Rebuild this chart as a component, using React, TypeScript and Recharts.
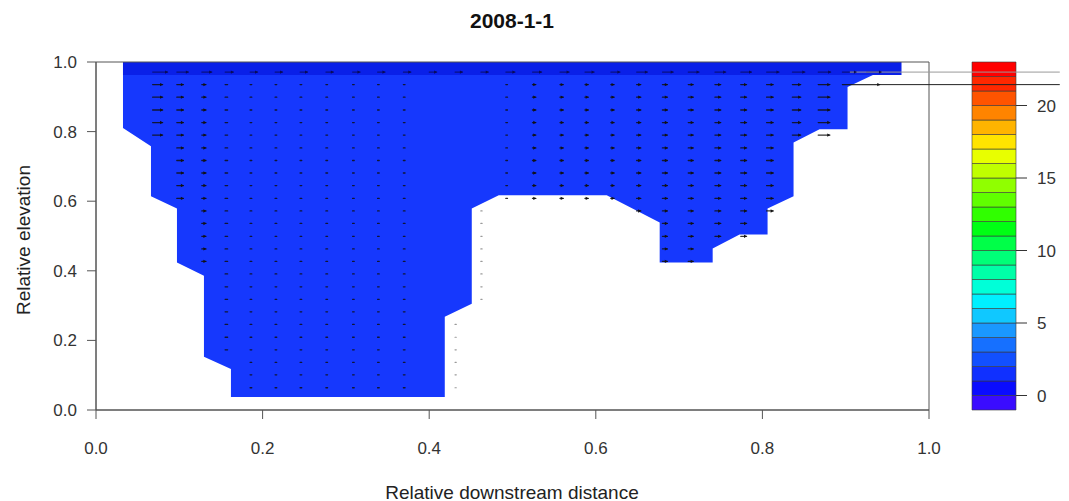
import React from "react";
import { ComposedChart, Area, Line, XAxis, YAxis, ReferenceArea, ReferenceLine } from "recharts";

// cross-section outline (bottom boundary), relative units
const bedX = [0.0324, 0.066, 0.066, 0.0972, 0.0972, 0.1296, 0.1296, 0.162, 0.162, 0.4187, 0.4187, 0.4511, 0.4511, 0.4835, 0.6131, 0.6767, 0.6767, 0.7403, 0.7403, 0.7726, 0.8062, 0.8062, 0.8374, 0.8374, 0.8686, 0.9022, 0.9022, 0.9346];
const bedY = [0.81, 0.758, 0.614, 0.579, 0.424, 0.386, 0.153, 0.118, 0.037, 0.037, 0.268, 0.305, 0.579, 0.617, 0.617, 0.539, 0.424, 0.424, 0.464, 0.504, 0.504, 0.579, 0.614, 0.769, 0.807, 0.807, 0.928, 0.965];

// surface layer
const surfaceX = [0.0324, 0.967];
const surfaceY = [0.963, 0.963];

// velocity vector grid rows
const arrowRows = [0.971, 0.935, 0.899, 0.862, 0.826, 0.79, 0.753, 0.717, 0.681, 0.645, 0.608, 0.572, 0.536, 0.499, 0.463, 0.427, 0.391, 0.354, 0.318, 0.282, 0.246, 0.209, 0.173, 0.137, 0.101, 0.064];

// [x, first row, last row, vector length, surface vector length]
const arrowColumns = [
  [0.068, 1, 5, 0.012, 0.018],
  [0.097, 1, 10, 0.008, 0.014],
  [0.127, 1, 15, 0.005, 0.012],
  [0.155, 1, 22, 0.003, 0.01],
  [0.185, 1, 25, 0.002, 0.009],
  [0.215, 1, 25, 0.002, 0.009],
  [0.245, 1, 25, 0.002, 0.009],
  [0.276, 1, 25, 0.002, 0.009],
  [0.308, 1, 25, 0.002, 0.009],
  [0.338, 1, 25, 0.002, 0.009],
  [0.369, 1, 25, 0.002, 0.009],
  [0.4, 1, 0, 0, 0.009],
  [0.431, 1, 0, 0, 0.009],
  [0.462, 1, 0, 0, 0.009],
  [0.492, 1, 10, 0.002, 0.011],
  [0.524, 1, 10, 0.004, 0.011],
  [0.557, 1, 10, 0.004, 0.011],
  [0.587, 1, 10, 0.004, 0.011],
  [0.618, 1, 10, 0.004, 0.011],
  [0.649, 1, 11, 0.005, 0.013],
  [0.68, 1, 15, 0.006, 0.013],
  [0.711, 1, 15, 0.006, 0.013],
  [0.743, 1, 13, 0.007, 0.013],
  [0.774, 1, 13, 0.007, 0.013],
  [0.805, 1, 11, 0.008, 0.015],
  [0.836, 1, 5, 0.01, 0.015],
  [0.867, 1, 5, 0.014, 0.015],
  [0.896, 1, 1, 0.045, 0.017],
  [0.925, 1, 0, 0, 0.018],
];

// tiny vectors drawn outside the wetted area
const faintColumns = [
  [0.431, 20, 25],
  [0.462, 11, 18],
];

// vectors running off the plot: [y, x start, x end]
const overflowArrows = [
  [0.971, 0.905, 1.157],
  [0.935, 0.94, 1.157],
];

const levelBreaks = [-1, 0, 1, 2, 3, 4, 5, 6, 7, 8, 9, 10, 11, 12, 13, 14, 15, 16, 17, 18, 19, 20, 21, 22, 23];
const levelColors = [
  "#3a0cff", "#0a0cff", "#1030ff", "#1250ff", "#1670ff", "#1a98ff", "#10c8ff", "#00f0ff",
  "#00ffd8", "#00ffa8", "#00ff78", "#00ff48", "#00ff14", "#30ff00", "#60ff00", "#90ff00",
  "#c0ff00", "#e8ff00", "#ffe400", "#ffb400", "#ff8400", "#ff5400", "#ff2800", "#ff0000",
];
const levelTicks = [0, 5, 10, 15, 20];
const axisTicks = [0, 0.2, 0.4, 0.6, 0.8, 1.0];

const bedData = bedX.map((x, i) => ({ x, lo: bedY[i] }));
const surfaceData = surfaceX.map((x, i) => ({ x, lo: surfaceY[i] }));

type Vec = { x: number; y: number; u: number };
const vectors: Vec[] = [];
const surfaceVectors: Vec[] = [];
arrowColumns.forEach(([x, first, last, u, uTop]) => {
  if (uTop > 0) surfaceVectors.push({ x, y: arrowRows[0], u: uTop });
  for (let r = first; r <= last; r++) vectors.push({ x, y: arrowRows[r], u });
});
const faintVectors: Vec[] = [];
faintColumns.forEach(([x, first, last]) => {
  for (let r = first; r <= last; r++) faintVectors.push({ x, y: arrowRows[r], u: 0.0015 });
});

// each vector becomes a 2-point segment followed by a gap
const toSegments = (list: Vec[]) =>
  list.flatMap((a) => [
    { x: a.x, v: a.y },
    { x: a.x + a.u, v: a.y, head: a.u >= 0.004 },
    { x: a.x + a.u, v: null },
  ]);

const vectorData = toSegments(vectors);
const surfaceVectorData = toSegments(surfaceVectors);
const faintData = toSegments(faintVectors);

const FONT = '"Liberation Sans", Arial, Helvetica, sans-serif';

const makeHead = (color: string) => (props: any) => {
  const { cx, cy, payload, index } = props;
  if (!payload || !payload.head || cy == null) return <g key={`h-${index}`} />;
  return (
    <path
      key={`h-${index}`}
      d={`M${cx - 2.6},${cy - 1.7}L${cx + 0.4},${cy}L${cx - 2.6},${cy + 1.7}Z`}
      fill={color}
      stroke="none"
    />
  );
};

const tickStyle = { fill: "#333", fontSize: 17, fontFamily: FONT };

export default function App() {
  return (
    <div style={{ position: "absolute", left: 0, top: 0, width: 1069, height: 501, background: "#fff", fontFamily: FONT }}>
      {/* colour scale */}
      <div style={{ position: "absolute", left: 0, top: 0 }}>
        <ComposedChart width={1069} height={501} margin={{ top: 62, right: 0, bottom: 91, left: 972 }}>
          <XAxis type="number" dataKey="x" domain={[0, 1]} hide />
          <YAxis
            orientation="right"
            type="number"
            domain={[-1, 23]}
            ticks={levelTicks}
            width={53}
            axisLine={false}
            tickSize={11}
            tickMargin={10}
            tickLine={{ stroke: "#333" }}
            tick={{ ...tickStyle, textAnchor: "start" }}
          />
          {levelColors.map((c, i) => (
            <ReferenceArea
              key={`lvl-${i}`}
              x1={0}
              x2={1}
              y1={levelBreaks[i]}
              y2={levelBreaks[i + 1]}
              fill={c}
              fillOpacity={1}
              stroke="#3a3a3a"
              strokeWidth={0.6}
              ifOverflow="visible"
            />
          ))}
          <Line
            data={[{ x: 0, v: -1 }, { x: 1, v: 23 }]}
            dataKey="v"
            stroke="none"
            dot={false}
            isAnimationActive={false}
          />
        </ComposedChart>
      </div>

      {/* main section */}
      <div style={{ position: "absolute", left: 0, top: 0 }}>
        <ComposedChart width={1069} height={501} margin={{ top: 62, right: 140, bottom: 0, left: 0 }}>
          <XAxis
            type="number"
            dataKey="x"
            domain={[0, 1]}
            allowDataOverflow
            ticks={axisTicks}
            tickFormatter={(v: number) => v.toFixed(1)}
            height={91}
            tickSize={9}
            tickMargin={23}
            axisLine={{ stroke: "#555" }}
            tickLine={{ stroke: "#555" }}
            tick={tickStyle}
          />
          <YAxis
            type="number"
            domain={[0, 1]}
            allowDataOverflow
            ticks={axisTicks}
            tickFormatter={(v: number) => v.toFixed(1)}
            width={96}
            tickSize={9}
            tickMargin={10}
            axisLine={{ stroke: "#555" }}
            tickLine={{ stroke: "#555" }}
            tick={tickStyle}
          />
          <Area
            data={bedData}
            dataKey="lo"
            type="linear"
            baseValue={1}
            fill="#1638fd"
            fillOpacity={1}
            stroke="none"
            isAnimationActive={false}
          />
          <Area
            data={surfaceData}
            dataKey="lo"
            type="linear"
            baseValue={1}
            fill="#0a20e8"
            fillOpacity={1}
            stroke="none"
            isAnimationActive={false}
          />
          <Line
            data={faintData}
            dataKey="v"
            type="linear"
            stroke="#9a9a9a"
            strokeWidth={1.2}
            strokeLinecap="round"
            connectNulls={false}
            dot={false}
            isAnimationActive={false}
          />
          <Line
            data={surfaceVectorData}
            dataKey="v"
            type="linear"
            stroke="#0a0c55"
            strokeOpacity={0.7}
            strokeWidth={1.1}
            strokeLinecap="round"
            connectNulls={false}
            dot={makeHead("#0a0c55")}
            activeDot={false}
            isAnimationActive={false}
          />
          <Line
            data={vectorData}
            dataKey="v"
            type="linear"
            stroke="#111"
            strokeOpacity={0.85}
            strokeWidth={1.3}
            strokeLinecap="round"
            connectNulls={false}
            dot={makeHead("#111")}
            activeDot={false}
            isAnimationActive={false}
          />
          {overflowArrows.map(([y, x1, x2], i) => (
            <ReferenceLine
              key={`ov-${i}`}
              segment={[{ x: x1, y }, { x: x2, y }]}
              stroke={i === 0 ? "#9a9a9a" : "#222"}
              strokeWidth={1}
              ifOverflow="visible"
            />
          ))}
          <ReferenceArea x1={0} x2={1} y1={0} y2={1} fill="none" stroke="#555" strokeWidth={1} ifOverflow="visible" />
        </ComposedChart>
      </div>

      {/* titles */}
      <div style={{ position: "absolute", left: 362, top: 10, width: 300, textAlign: "center", fontSize: 21, lineHeight: "21px", fontWeight: "bold", color: "#111" }}>
        2008-1-1
      </div>
      <div style={{ position: "absolute", left: 262, top: 483, width: 500, textAlign: "center", fontSize: 19, lineHeight: "19px", color: "#222" }}>
        Relative downstream distance
      </div>
      <div
        style={{
          position: "absolute",
          left: 24 - 150,
          top: 240 - 10,
          width: 300,
          textAlign: "center",
          fontSize: 19,
          lineHeight: "19px",
          color: "#222",
          transform: "rotate(-90deg)",
          transformOrigin: "150px 10px",
        }}
      >
        Relative elevation
      </div>
    </div>
  );
}
